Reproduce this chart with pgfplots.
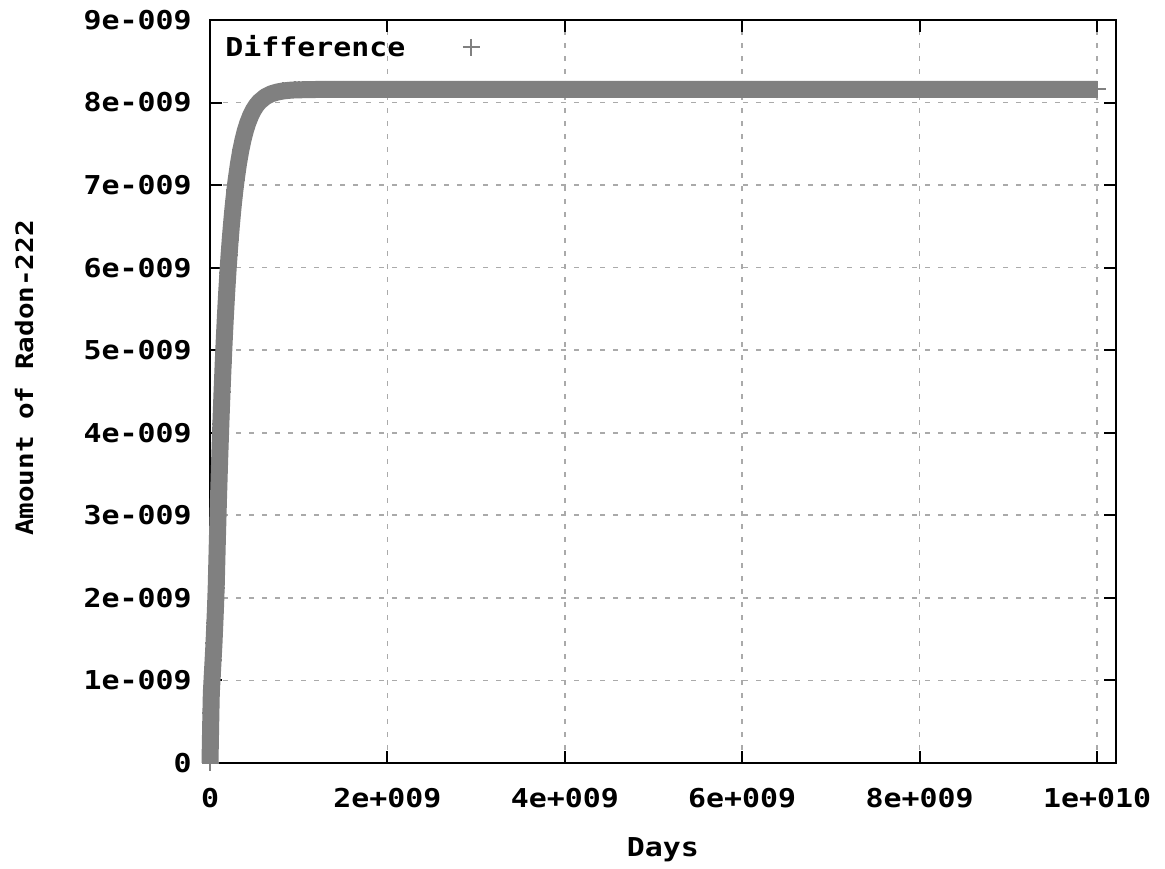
\documentclass[border=0pt]{standalone}
\usepackage{fontspec}
\setmainfont{DejaVu Sans Mono}[FakeStretch=1.15]
\newfontfamily\plotfont{DejaVu Sans Mono}[FakeStretch=1.15]
\usepackage{pgfplots}
\pgfplotsset{compat=1.18}
\definecolor{markgray}{RGB}{128,128,128}
\definecolor{gridgray}{RGB}{170,170,170}

\pgfplotstableread{
x y
0 0
0.005e9 0.30e-9
0.010e9 0.60e-9
0.015e9 0.85e-9
0.025e9 1.05e-9
0.035e9 1.25e-9
0.045e9 1.45e-9
0.055e9 1.70e-9
0.0625e9 1.90e-9
0.0696e9 2.1149e-9
0.0828e9 2.6902e-9
0.0960e9 3.2107e-9
0.1092e9 3.6817e-9
0.1224e9 4.1079e-9
0.1356e9 4.4935e-9
0.1488e9 4.8424e-9
0.1620e9 5.1581e-9
0.1752e9 5.4438e-9
0.1884e9 5.7023e-9
0.2016e9 5.9361e-9
0.2148e9 6.1478e-9
0.2280e9 6.3393e-9
0.2412e9 6.5125e-9
0.2544e9 6.6693e-9
0.2676e9 6.8112e-9
0.2808e9 6.9395e-9
0.2940e9 7.0557e-9
0.3204e9 7.2558e-9
0.3468e9 7.4197e-9
0.3732e9 7.5539e-9
0.3996e9 7.6638e-9
0.4260e9 7.7537e-9
0.4590e9 7.8436e-9
0.4920e9 7.9136e-9
0.5250e9 7.9681e-9
0.5580e9 8.0105e-9
0.6240e9 8.0694e-9
0.6900e9 8.1050e-9
0.7560e9 8.1267e-9
0.8220e9 8.1398e-9
0.8880e9 8.1477e-9
0.9540e9 8.1526e-9
1.0e9 8.154e-9
1.1e9 8.156e-9
1.2e9 8.158e-9
1.3e9 8.159e-9
1.4e9 8.16e-9
1.5e9 8.16e-9
1.6e9 8.16e-9
1.7e9 8.16e-9
1.8e9 8.16e-9
1.9e9 8.16e-9
2.0e9 8.16e-9
2.1e9 8.16e-9
2.2e9 8.16e-9
2.3e9 8.16e-9
2.4e9 8.16e-9
2.5e9 8.16e-9
2.6e9 8.16e-9
2.7e9 8.16e-9
2.8e9 8.16e-9
2.9e9 8.16e-9
3.0e9 8.16e-9
3.1e9 8.16e-9
3.2e9 8.16e-9
3.3e9 8.16e-9
3.4e9 8.16e-9
3.5e9 8.16e-9
3.6e9 8.16e-9
3.7e9 8.16e-9
3.8e9 8.16e-9
3.9e9 8.16e-9
4.0e9 8.16e-9
4.1e9 8.16e-9
4.2e9 8.16e-9
4.3e9 8.16e-9
4.4e9 8.16e-9
4.5e9 8.16e-9
4.6e9 8.16e-9
4.7e9 8.16e-9
4.8e9 8.16e-9
4.9e9 8.16e-9
5.0e9 8.16e-9
5.1e9 8.16e-9
5.2e9 8.16e-9
5.3e9 8.16e-9
5.4e9 8.16e-9
5.5e9 8.16e-9
5.6e9 8.16e-9
5.7e9 8.16e-9
5.8e9 8.16e-9
5.9e9 8.16e-9
6.0e9 8.16e-9
6.1e9 8.16e-9
6.2e9 8.16e-9
6.3e9 8.16e-9
6.4e9 8.16e-9
6.5e9 8.16e-9
6.6e9 8.16e-9
6.7e9 8.16e-9
6.8e9 8.16e-9
6.9e9 8.16e-9
7.0e9 8.16e-9
7.1e9 8.16e-9
7.2e9 8.16e-9
7.3e9 8.16e-9
7.4e9 8.16e-9
7.5e9 8.16e-9
7.6e9 8.16e-9
7.7e9 8.16e-9
7.8e9 8.16e-9
7.9e9 8.16e-9
8.0e9 8.16e-9
8.1e9 8.16e-9
8.2e9 8.16e-9
8.3e9 8.16e-9
8.4e9 8.16e-9
8.5e9 8.16e-9
8.6e9 8.16e-9
8.7e9 8.16e-9
8.8e9 8.16e-9
8.9e9 8.16e-9
9.0e9 8.16e-9
9.1e9 8.16e-9
9.2e9 8.16e-9
9.3e9 8.16e-9
9.4e9 8.16e-9
9.5e9 8.16e-9
9.6e9 8.16e-9
9.7e9 8.16e-9
9.8e9 8.16e-9
9.9e9 8.16e-9
10.0e9 8.16e-9
}\radon

\begin{document}
\begin{tikzpicture}[x=1pt,y=1pt]
\begin{axis}[
  scale only axis, width=453pt, height=371.5pt,
  xmin=0, xmax=1.0214e10, ymin=0, ymax=9e-9,
  scaled ticks=false, clip=false,
  font=\plotfont\fontsize{13}{13}\selectfont\bfseries,
  xtick={0,2e9,4e9,6e9,8e9,1e10},
  xticklabels={0,2e+009,4e+009,6e+009,8e+009,1e+010},
  ytick={0,1e-9,2e-9,3e-9,4e-9,5e-9,6e-9,7e-9,8e-9,9e-9},
  yticklabels={0,1e-009,2e-009,3e-009,4e-009,5e-009,6e-009,7e-009,8e-009,9e-009},
  xticklabel style={yshift=-9pt},
  yticklabel style={xshift=-5.7pt},
  major tick length=6pt,
  every tick/.style={black,line width=1pt},
  axis line style={line width=1pt},
  grid=major,
  major grid style={gridgray,line width=0.8pt,dash pattern=on 2.5pt off 4pt},
  xlabel={Days}, ylabel={Amount of Radon-222},
  xlabel style={at={(axis description cs:0.5,-0.117)},anchor=center},
  ylabel style={at={(axis description cs:-0.205,0.518)},anchor=center,
    font=\plotfont\fontsize{12}{12}\selectfont\bfseries},
  legend plot pos=right, legend cell align=left,
  legend style={draw=none,fill=none,at={(axis description cs:0,1)},anchor=north west,
    xshift=2.5pt,yshift=-3.5pt,font=\plotfont\fontsize{13}{13}\selectfont\bfseries},
  legend image code/.code={\path[draw=none,fill=none] (0pt,-2pt) rectangle (62pt,2pt);
    \draw[#1,mark repeat=2,mark phase=2] plot coordinates {(0pt,0pt)(31pt,0pt)(62pt,0pt)};},
]
\addplot[forget plot,no marks,color=markgray,line width=8.5pt,line join=round,line cap=butt] table[x=x,y=y] {\radon};
\addplot[only marks,mark=+,mark size=4.25pt,color=markgray,line width=1pt] table[x=x,y=y] {\radon};
\addlegendentry{Difference}
\path (axis description cs:-0.2318,-0.1400) rectangle (axis description cs:1.0541,1.0269);
\end{axis}
\end{tikzpicture}
\end{document}
